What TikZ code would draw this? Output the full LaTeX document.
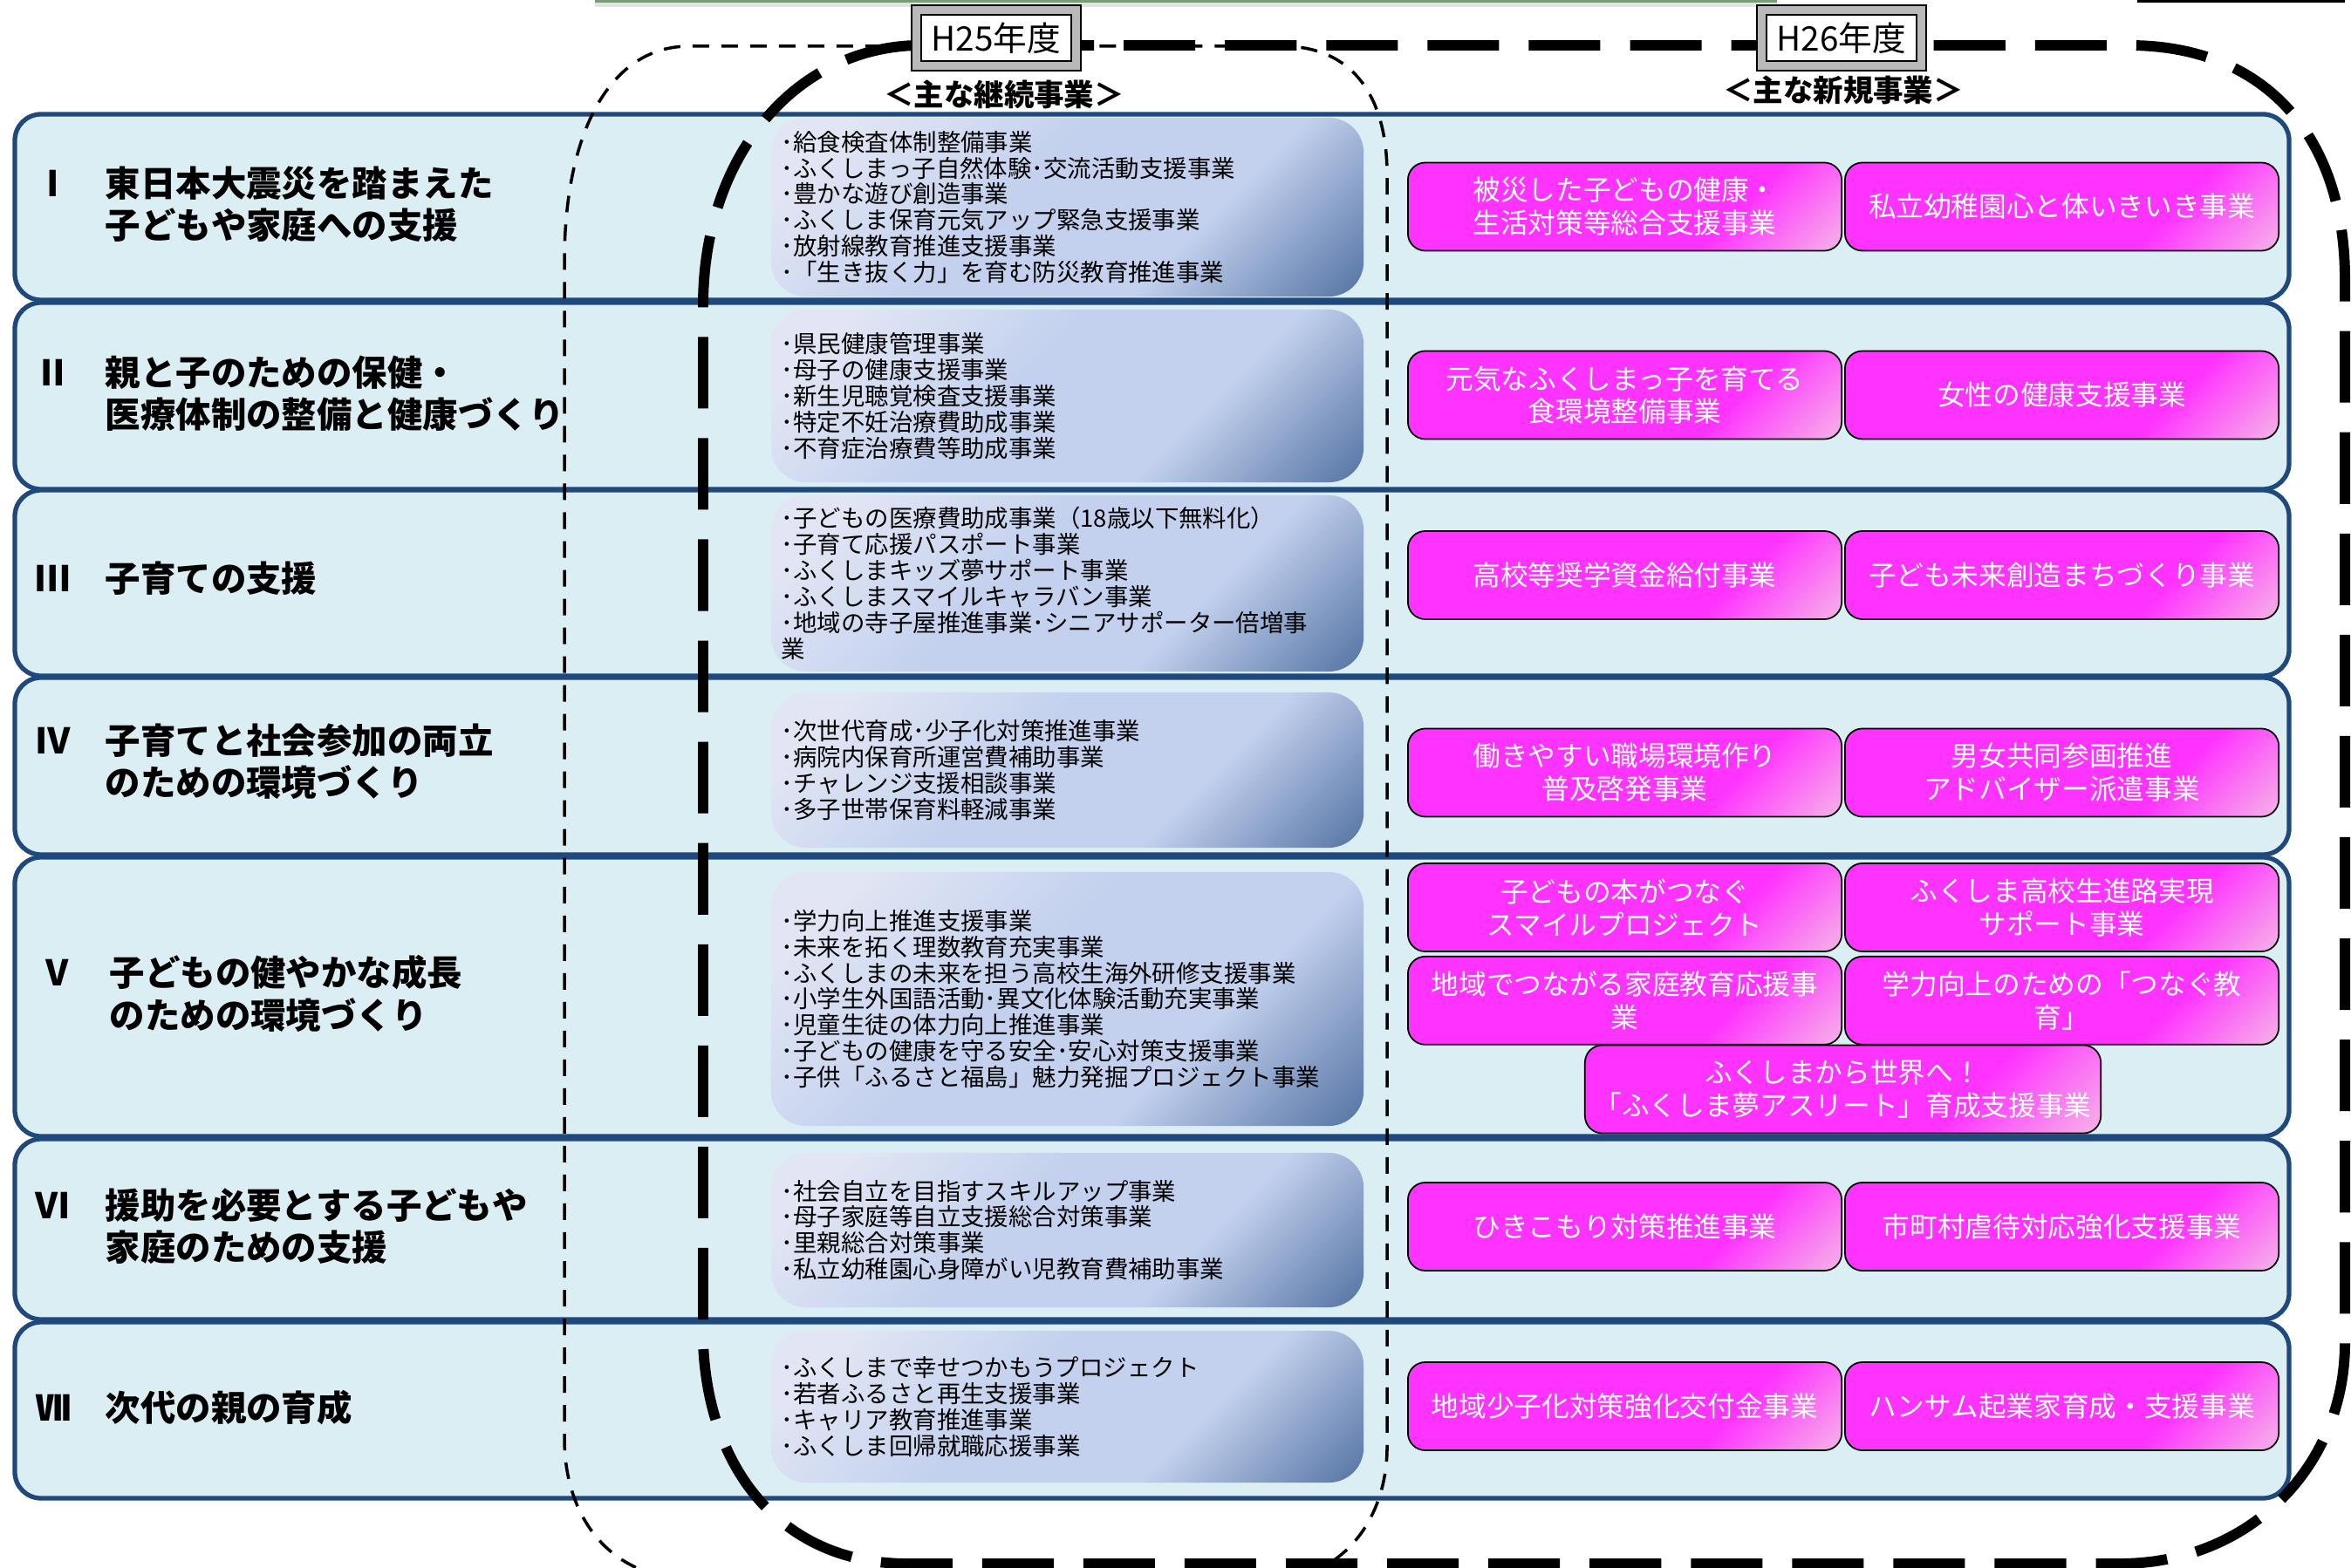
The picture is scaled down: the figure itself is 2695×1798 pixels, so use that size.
\documentclass[tikz,border=0pt]{standalone}
\usepackage{fontspec}
\setmainfont{Noto Sans CJK JP}
\usetikzlibrary{positioning}

\definecolor{bandfill}{HTML}{DAEEF3}
\definecolor{bandline}{HTML}{1F497D}
\definecolor{contlight}{HTML}{E2E6F4}
\definecolor{contmid}{HTML}{C3D1EE}
\definecolor{contdark}{HTML}{3C5F93}
\definecolor{pinkmain}{HTML}{FF33FF}
\definecolor{pinklight}{HTML}{F3D3E2}
\definecolor{stripgreen}{HTML}{7A9A78}

\pgfdeclareverticalshading{contshade}{100bp}{color(0bp)=(contdark); color(10bp)=(contdark); color(36bp)=(contmid); color(56bp)=(contmid); color(78bp)=(contlight); color(100bp)=(contlight)}
\pgfdeclareverticalshading{pinkshade}{100bp}{color(0bp)=(pinklight); color(10bp)=(pinklight); color(34bp)=(pinkmain); color(100bp)=(pinkmain)}

\tikzstyle{band} = [draw=bandline, 
line width=1.5pt, 
fill=bandfill, 
rounded corners=0.3cm]
\tikzstyle{rowlabel} = [anchor=west, 
inner sep=0pt, 
font=\fontsize{11.5}{13}\selectfont\bfseries]
\tikzstyle{cont} = [shade, shading=contshade, shading angle=45, 
rounded corners=0.4cm, 
minimum width=6.79cm, 
text width=6.55cm, 
inner xsep=0.12cm, 
align=left, 
font=\fontsize{7.8}{8.5}\selectfont]
\tikzstyle{newbox} = [draw=black, line width=0.5pt, 
shade, shading=pinkshade, shading angle=45, 
rounded corners=0.2cm, 
minimum width=4.97cm, 
minimum height=1.01cm, 
inner sep=1pt, 
text=white, align=center, 
font=\fontsize{9}{10.8}\selectfont]
\tikzstyle{yearbox} = [draw=black, line width=0.6pt, 
double=gray!55, double distance=2.6pt, 
fill=white, 
minimum width=1.83cm, 
minimum height=0.64cm, 
inner sep=1pt, 
font=\fontsize{11}{12}\selectfont]
\tikzstyle{header} = [inner sep=0pt, font=\fontsize{9.8}{11}\selectfont\bfseries]
\tikzstyle{thindash} = [line width=1pt, dash pattern=on 0.19cm off 0.14cm]
\tikzstyle{thickdash} = [line width=3.4pt, dash pattern=on 0.82cm off 0.34cm]

\begin{document}
\begin{tikzpicture}[x=0.01cm, y=-0.01cm]
\useasboundingbox (0,0) rectangle (2695,1798);
\clip (0,0) rectangle (2695,1798);

% cut-off frames at the top edge
\fill[gray!22] (682,0) rectangle (2037,8);
\fill[stripgreen] (682,0) rectangle (2037,3);
\draw[line width=0.6pt] (2451,-10) rectangle (2687,1.5);

% row bands
\foreach \t/\b in {131/344, 347/561, 562/775, 777/980, 983/1303, 1306/1513, 1516/1718}
  \draw[band] (17,\t) rectangle (2624,\b);

% row titles
\node (lbl1) [rowlabel] at (40,239) {\begin{tabular}{@{}p{0.8cm}@{}l@{}}Ⅰ & 東日本大震災を踏まえた\\ & 子どもや家庭への支援\end{tabular}};
\node (lbl2) [rowlabel] at (40,456) {\begin{tabular}{@{}p{0.8cm}@{}l@{}}Ⅱ & 親と子のための保健・\\ & 医療体制の整備と健康づくり\end{tabular}};
\node (lbl3) [rowlabel] at (40,668) {\begin{tabular}{@{}p{0.8cm}@{}l@{}}Ⅲ & 子育ての支援\end{tabular}};
\node (lbl4) [rowlabel] at (40,878) {\begin{tabular}{@{}p{0.8cm}@{}l@{}}Ⅳ & 子育てと社会参加の両立\\ & のための環境づくり\end{tabular}};
\node (lbl5) [rowlabel] at (45,1144) {\begin{tabular}{@{}p{0.8cm}@{}l@{}}Ⅴ & 子どもの健やかな成長\\ & のための環境づくり\end{tabular}};
\node (lbl6) [rowlabel] at (40,1411) {\begin{tabular}{@{}p{0.8cm}@{}l@{}}Ⅵ & 援助を必要とする子どもや\\ & 家庭のための支援\end{tabular}};
\node (lbl7) [rowlabel] at (40,1619) {\begin{tabular}{@{}p{0.8cm}@{}l@{}}Ⅶ & 次代の親の育成\end{tabular}};

% continued projects (H25)
\node (cont1) [cont, minimum height=2.05cm] at (1223.5,237.5) {･給食検査体制整備事業\\･ふくしまっ子自然体験･交流活動支援事業\\･豊かな遊び創造事業\\･ふくしま保育元気アップ緊急支援事業\\･放射線教育推進支援事業\\･「生き抜く力」を育む防災教育推進事業};
\node (cont2) [cont, minimum height=1.98cm] at (1223.5,454) {･県民健康管理事業\\･母子の健康支援事業\\･新生児聴覚検査支援事業\\･特定不妊治療費助成事業\\･不育症治療費等助成事業};
\node (cont3) [cont, minimum height=2.02cm] at (1223.5,669) {･子どもの医療費助成事業（18歳以下無料化）\\･子育て応援パスポート事業\\･ふくしまキッズ夢サポート事業\\･ふくしまスマイルキャラバン事業\\･地域の寺子屋推進事業･シニアサポーター倍増事\\業};
\node (cont4) [cont, minimum height=1.78cm] at (1223.5,883) {･次世代育成･少子化対策推進事業\\･病院内保育所運営費補助事業\\･チャレンジ支援相談事業\\･多子世帯保育料軽減事業};
\node (cont5) [cont, minimum height=2.91cm] at (1223.5,1145.5) {･学力向上推進支援事業\\･未来を拓く理数教育充実事業\\･ふくしまの未来を担う高校生海外研修支援事業\\･小学生外国語活動･異文化体験活動充実事業\\･児童生徒の体力向上推進事業\\･子どもの健康を守る安全･安心対策支援事業\\･子供「ふるさと福島」魅力発掘プロジェクト事業};
\node (cont6) [cont, minimum height=1.77cm] at (1223.5,1410.5) {･社会自立を目指すスキルアップ事業\\･母子家庭等自立支援総合対策事業\\･里親総合対策事業\\･私立幼稚園心身障がい児教育費補助事業};
\node (cont7) [cont, minimum height=1.74cm] at (1223.5,1613) {･ふくしまで幸せつかもうプロジェクト\\･若者ふるさと再生支援事業\\･キャリア教育推進事業\\･ふくしま回帰就職応援事業};

% new projects (H26)
\node (new1a) [newbox] at (1862.5,237) {被災した子どもの健康・\\生活対策等総合支援事業};
\node (new1b) [newbox, right=0.02cm of new1a] {私立幼稚園心と体いきいき事業};
\node (new2a) [newbox] at (1862.5,453) {元気なふくしまっ子を育てる\\食環境整備事業};
\node (new2b) [newbox, right=0.02cm of new2a] {女性の健康支援事業};
\node (new3a) [newbox] at (1862.5,659.5) {高校等奨学資金給付事業};
\node (new3b) [newbox, right=0.02cm of new3a] {子ども未来創造まちづくり事業};
\node (new4a) [newbox] at (1862.5,886) {働きやすい職場環境作り\\普及啓発事業};
\node (new4b) [newbox, right=0.02cm of new4a] {男女共同参画推進\\アドバイザー派遣事業};
\node (new5a) [newbox] at (1862.5,1040.5) {子どもの本がつなぐ\\スマイルプロジェクト};
\node (new5b) [newbox, right=0.02cm of new5a] {ふくしま高校生進路実現\\サポート事業};
\node (new5c) [newbox, below=0.04cm of new5a] {地域でつながる家庭教育応援事\\業};
\node (new5d) [newbox, right=0.02cm of new5c] {学力向上のための「つなぐ教\\育」};
\node (new5e) [newbox, minimum width=5.91cm] at (2112.5,1249) {ふくしまから世界へ！\\「ふくしま夢アスリート」育成支援事業};
\node (new6a) [newbox] at (1862.5,1406.5) {ひきこもり対策推進事業};
\node (new6b) [newbox, right=0.02cm of new6a] {市町村虐待対応強化支援事業};
\node (new7a) [newbox] at (1862.5,1612.5) {地域少子化対策強化交付金事業};
\node (new7b) [newbox, right=0.02cm of new7a] {ハンサム起業家育成・支援事業};

% H25 frame (thin) and H26 frame (thick)
\draw[thindash] (1044,53) -- (790,53) .. controls (700,53) and (647,150) .. (647,300) -- (647,1650) .. controls (647,1740) and (700,1810) .. (790,1810) -- (1460,1810) .. controls (1540,1810) and (1590,1740) .. (1590,1660) -- (1590,200) .. controls (1590,110) and (1550,53) .. (1470,53) -- cycle;
\draw[thickdash] (1050,52) .. controls (910,56) and (806,180) .. (806,350) -- (806,1540) .. controls (812,1690) and (900,1793) .. (1040,1793) -- (2430,1793) .. controls (2580,1793) and (2688,1680) .. (2688,1540) -- (2688,320) .. controls (2688,160) and (2600,52) .. (2440,52) -- cycle;

% year headings
\node (h25) [yearbox] at (1142,43.5) {H25年度};
\node (h26) [yearbox] at (2111,43.5) {H26年度};
\node (head25) [header] at (1151,108) {＜主な継続事業＞};
\node (head26) [header] at (2113,103) {＜主な新規事業＞};

\end{tikzpicture}
\end{document}
